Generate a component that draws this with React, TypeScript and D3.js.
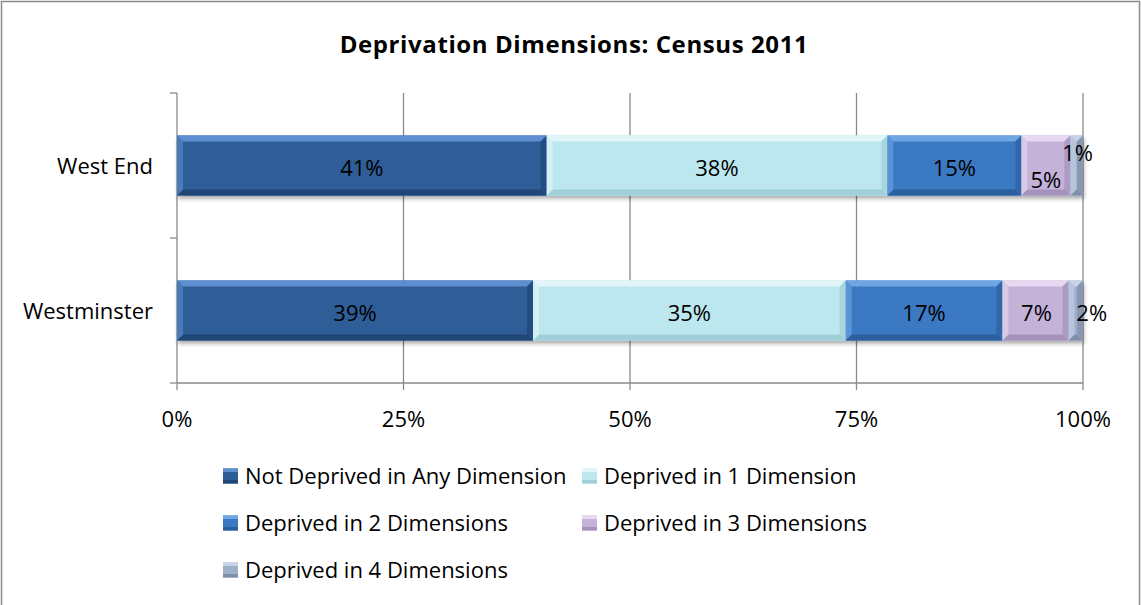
import React from "react";
import * as d3 from "d3";

const title = "Deprivation Dimensions: Census 2011";
const categories = ["West End", "Westminster"];
const seriesNames = [
  "Not Deprived in Any Dimension",
  "Deprived in 1 Dimension",
  "Deprived in 2 Dimensions",
  "Deprived in 3 Dimensions",
  "Deprived in 4 Dimensions",
];
const westEnd = [40.8, 37.6, 14.8, 5.4, 1.4];
const westminster = [39.3, 34.5, 17.3, 7.3, 1.6];
const xTicks = [0, 25, 50, 75, 100];

const colors = ["#2d5d97", "#bde7ef", "#3b79c3", "#c4b2d8", "#9eafca"];
const lightColors = ["#5d8fd0", "#e2f6f9", "#6ea6e4", "#e6d9f1", "#c7d3e6"];
const darkColors = ["#1f4676", "#9fcfd9", "#2b5f9e", "#a592bc", "#7f8fab"];

// label offsets (layout) per category / series
const labelOffsets: Record<string, [number, number][]> = {
  "West End": [[0, 0], [0, 0], [0, 0], [0, 12], [1, -15]],
  Westminster: [[0, 0], [0, 0], [0, 0], [1, 0], [16, 0]],
};

const W = 1142;
const H = 605;
const FONT = "'Open Sans', 'DejaVu Sans', sans-serif";
const FS = 22;

export default function App() {
  const values: Record<string, number[]> = {
    "West End": westEnd,
    Westminster: westminster,
  };
  const x = d3.scaleLinear().domain([0, 100]).range([177, 1083]);
  const y = d3
    .scaleBand<string>()
    .domain(categories)
    .range([93, 383])
    .paddingInner(0.586)
    .paddingOuter(0.293);
  const bw = y.bandwidth();
  const bev = 6;

  const legendRows = [
    [0, 1],
    [2, 3],
    [4],
  ];
  const legendColX = [223, 582];
  const legendRowY = [476, 523, 570];

  return (
    <svg
      width={W}
      height={H}
      style={{ position: "absolute", left: 0, top: 0, background: "#fff" }}
      fontFamily={FONT}
    >
      <defs>
        <filter id="shadow" x="-5%" y="-20%" width="110%" height="160%">
          <feGaussianBlur in="SourceAlpha" stdDeviation="2" />
          <feOffset dx="1" dy="3" result="b" />
          <feComponentTransfer>
            <feFuncA type="linear" slope="0.35" />
          </feComponentTransfer>
          <feMerge>
            <feMergeNode />
            <feMergeNode in="SourceGraphic" />
          </feMerge>
        </filter>
      </defs>
      <rect x={1.5} y={1.5} width={1138} height={620} fill="#fff" stroke="#8c8c8c" strokeWidth={1.5} />
      <text x={574} y={53} textAnchor="middle" fontSize={24} fontWeight="bold" fill="#000" letterSpacing={0.6}>
        {title}
      </text>

      {/* gridlines */}
      {xTicks.slice(1).map((t) => (
        <line key={t} x1={x(t)} x2={x(t)} y1={93} y2={383} stroke="#8a8a8a" strokeWidth={1.3} />
      ))}
      {/* y axis */}
      <line x1={177} x2={177} y1={93} y2={383} stroke="#8a8a8a" strokeWidth={1.3} />
      {[93, 238, 383].map((v) => (
        <line key={v} x1={170} x2={177} y1={v} y2={v} stroke="#8a8a8a" strokeWidth={1.3} />
      ))}
      {/* x axis */}
      <line x1={177} x2={1083} y1={383} y2={383} stroke="#8a8a8a" strokeWidth={1.3} />
      {xTicks.map((t) => (
        <g key={t}>
          <line x1={x(t)} x2={x(t)} y1={383} y2={390} stroke="#8a8a8a" strokeWidth={1.3} />
          <text x={x(t)} y={427} textAnchor="middle" fontSize={FS} fill="#000">
            {t}%
          </text>
        </g>
      ))}

      {categories.map((c) => (
        <text key={c} x={153} y={(y(c) as number) + bw / 2 + 8} textAnchor="end" fontSize={FS} fill="#000">
          {c}
        </text>
      ))}

      {categories.map((c) => {
        const vals = values[c];
        let acc = 0;
        const y0 = y(c) as number;
        const segs = vals.map((v, i) => {
          const x0 = x(acc);
          acc += v;
          const x1 = x(acc);
          return { x0, x1, v, i };
        });
        return (
          <g key={c}>
            <g filter="url(#shadow)">
              {segs.map((s) => (
                <rect key={s.i} x={s.x0} y={y0} width={s.x1 - s.x0} height={bw} fill={colors[s.i]} />
              ))}
            </g>
            {segs.map((s) => {
              const w = s.x1 - s.x0;
              const b = Math.min(bev, w / 2);
              const x0 = s.x0,
                x1 = s.x1,
                y1 = y0 + bw;
              return (
                <g key={s.i}>
                  <polygon
                    points={`${x0},${y0} ${x1},${y0} ${x1 - b},${y0 + b} ${x0 + b},${y0 + b}`}
                    fill={lightColors[s.i]}
                  />
                  <polygon
                    points={`${x0},${y1} ${x1},${y1} ${x1 - b},${y1 - b} ${x0 + b},${y1 - b}`}
                    fill={darkColors[s.i]}
                  />
                  <polygon
                    points={`${x0},${y0} ${x0 + b},${y0 + b} ${x0 + b},${y1 - b} ${x0},${y1}`}
                    fill={lightColors[s.i]}
                    opacity={0.6}
                  />
                  <polygon
                    points={`${x1},${y0} ${x1 - b},${y0 + b} ${x1 - b},${y1 - b} ${x1},${y1}`}
                    fill={darkColors[s.i]}
                    opacity={0.7}
                  />
                </g>
              );
            })}
            {segs.map((s) => {
              const off = labelOffsets[c][s.i];
              return (
                <text
                  key={"l" + s.i}
                  x={(s.x0 + s.x1) / 2 + off[0]}
                  y={y0 + bw / 2 + 10.5 + off[1]}
                  textAnchor="middle"
                  fontSize={FS}
                  fill="#000"
                >
                  {Math.round(s.v)}%
                </text>
              );
            })}
          </g>
        );
      })}

      {legendRows.map((row, r) =>
        row.map((si, ci) => (
          <g key={si}>
            <rect x={legendColX[ci]} y={legendRowY[r] - 7.5} width={15} height={15} fill={colors[si]} />
            <rect x={legendColX[ci]} y={legendRowY[r] - 7.5} width={15} height={3.5} fill={lightColors[si]} />
            <rect x={legendColX[ci]} y={legendRowY[r] + 4} width={15} height={3.5} fill={darkColors[si]} />
            <text x={legendColX[ci] + 22} y={legendRowY[r] + 7.5} fontSize={FS} fill="#000">
              {seriesNames[si]}
            </text>
          </g>
        ))
      )}
    </svg>
  );
}
